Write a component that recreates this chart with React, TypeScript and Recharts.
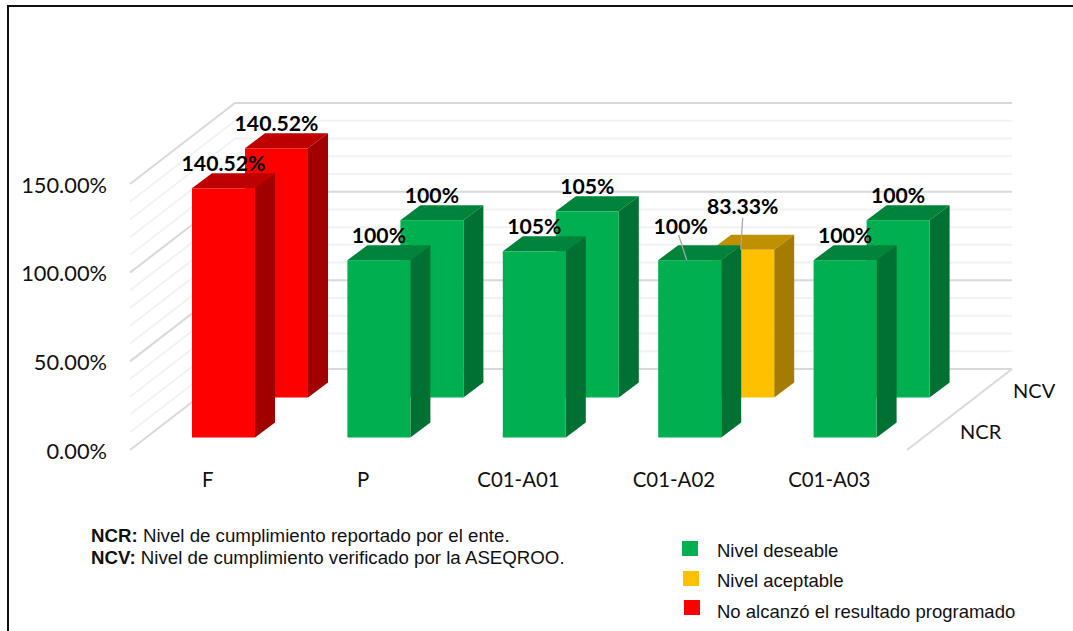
import { BarChart, Bar, XAxis, YAxis, ReferenceLine, LabelList } from 'recharts';

const categories = ['F', 'P', 'C01-A01', 'C01-A02', 'C01-A03'];
const ncrValues = [140.52, 100, 105, 100, 100];
const ncvValues = [140.52, 100, 105, 83.33, 100];
const ncrLevels = ['red', 'green', 'green', 'green', 'green'];
const ncvLevels = ['red', 'green', 'green', 'yellow', 'green'];
const gridValues = [10, 20, 30, 40, 60, 70, 80, 90, 110, 120, 130, 140, 0, 50, 100, 150];
const yTicks = [0, 50, 100, 150];

const legendItems = [
  { label: 'Nivel deseable', level: 'green' },
  { label: 'Nivel aceptable', level: 'yellow' },
  { label: 'No alcanzó el resultado programado', level: 'red' },
];

const palette: Record<string, { face: string; top: string; side: string }> = {
  red: { face: '#ff0000', top: '#bf0000', side: '#a20000' },
  green: { face: '#00b050', top: '#00843c', side: '#007033' },
  yellow: { face: '#ffc000', top: '#bf9000', side: '#a67c00' },
};

const data = categories.map((name, i) => ({
  name,
  ncr: ncrValues[i],
  ncv: ncvValues[i],
  ncrLevel: ncrLevels[i],
  ncvLevel: ncvLevels[i],
}));

// fake 3d: each plane is the axis plane pushed back by some px
const FRONT = { dx: 16, dy: -12.5 };
const BACK = { dx: 69, dy: -52.5 };
const WALL = { dx: 105, dy: -81 };
const DEPTH = { dx: 20, dy: -15 };

const axisFont = 'Lato, sans-serif';
const noteFont = '"Liberation Sans", Arial, sans-serif';

function Box3D({ x, y, width, height, level, plane }: any) {
  const c = palette[level];
  const l = x + plane.dx;
  const r = l + width;
  const t = y + plane.dy;
  const b = t + height;
  const { dx, dy } = DEPTH;
  return (
    <g>
      <polygon points={`${l},${t} ${r},${t} ${r + dx},${t + dy} ${l + dx},${t + dy}`} fill={c.top} />
      <polygon points={`${r},${t} ${r + dx},${t + dy} ${r + dx},${b + dy} ${r},${b}`} fill={c.side} />
      <rect x={l} y={t} width={width} height={height} fill={c.face} />
    </g>
  );
}

function WallLine({ x1, y1, x2, value }: any) {
  const stroke = value % 50 === 0 ? '#d9d9d9' : '#f2f2f2';
  const bx = x1 + WALL.dx;
  const by = y1 + WALL.dy;
  const rx = x2 + WALL.dx;
  return (
    <g>
      <polyline points={`${x1},${y1} ${bx},${by} ${rx},${by}`} fill="none" stroke={stroke} strokeWidth={2} />
      {value === 0 && <line x1={x2} y1={y1} x2={rx} y2={by} stroke={stroke} strokeWidth={2} />}
    </g>
  );
}

// per-bar tweaks of the labels, only the two on C01-A02 are moved and get a leader
const labelNudge: Record<string, { dx: number; dy: number; leader?: number[] }> = {
  'ncr-3': { dx: -9, dy: -9, leader: [-2, 9, 6, 34] },
  'ncv-3': { dx: 0, dy: -19, leader: [0, 12, -2, 44] },
};

function BarLabel({ x, y, width, value, index, series, plane }: any) {
  const nudge = labelNudge[`${series}-${index}`] || { dx: 0, dy: 0 };
  const cx = x + plane.dx + width / 2 + nudge.dx;
  const cy = y + plane.dy - 25 + nudge.dy;
  const lead = nudge.leader;
  return (
    <g>
      {lead && (
        <line x1={cx + lead[0]} y1={cy + lead[1]} x2={cx + lead[2]} y2={cy + lead[3]} stroke="#a6a6a6" strokeWidth={1.3} />
      )}
      <text x={cx} y={cy} textAnchor="middle" dominantBaseline="central" fontFamily={axisFont} fontWeight={700} fontSize={21.2} fill="#000">
        {value}%
      </text>
    </g>
  );
}

export default function App() {
  return (
    <div style={{ position: 'absolute', left: 0, top: 0, width: 1073, height: 631, background: '#fff', overflow: 'hidden' }}>
      <div style={{ position: 'absolute', left: 7, top: 5, width: 1066, height: 626, borderLeft: '2px solid #111', borderTop: '2px solid #111' }} />
      <BarChart
        width={1073}
        height={631}
        data={data}
        barSize={63}
        barGap={-63}
        margin={{ top: 184, right: 166, bottom: 141, left: 30 }}
        style={{ position: 'absolute', left: 0, top: 0 }}
      >
        <XAxis
          dataKey="name"
          height={40}
          axisLine={false}
          tickLine={false}
          tickSize={0}
          tickMargin={23}
          interval={0}
          tick={{ fill: '#111', fontSize: 20.4, fontFamily: axisFont }}
        />
        <YAxis
          width={100}
          domain={[0, 150]}
          ticks={yTicks}
          axisLine={false}
          tickLine={false}
          tickSize={0}
          tickMargin={23}
          tickFormatter={(v) => `${v.toFixed(2)}%`}
          tick={{ fill: '#111', fontSize: 21.8, fontFamily: axisFont, dy: 1 }}
        />
        {gridValues.map((v) => (
          <ReferenceLine key={v} y={v} zIndex={-100} shape={(p: any) => <WallLine {...p} value={v} />} />
        ))}
        <Bar dataKey="ncv" isAnimationActive={false} shape={(p: any) => <Box3D {...p} level={p.payload.ncvLevel} plane={BACK} />}>
          <LabelList dataKey="ncv" content={(p: any) => <BarLabel {...p} series="ncv" plane={BACK} />} />
        </Bar>
        <Bar dataKey="ncr" isAnimationActive={false} shape={(p: any) => <Box3D {...p} level={p.payload.ncrLevel} plane={FRONT} />}>
          <LabelList dataKey="ncr" content={(p: any) => <BarLabel {...p} series="ncr" plane={FRONT} />} />
        </Bar>
      </BarChart>

      <div style={{ position: 'absolute', left: 1013, top: 378, fontFamily: axisFont, fontSize: 20, color: '#111' }}>NCV</div>
      <div style={{ position: 'absolute', left: 960, top: 419, fontFamily: axisFont, fontSize: 20, color: '#111' }}>NCR</div>

      <div style={{ position: 'absolute', left: 91, top: 525, fontFamily: noteFont, fontSize: 18.7, lineHeight: '22px', color: '#111', whiteSpace: 'nowrap' }}>
        <div><b>NCR:</b> Nivel de cumplimiento reportado por el ente.</div>
        <div><b>NCV:</b> Nivel de cumplimiento verificado por la ASEQROO.</div>
      </div>

      {legendItems.map((item, i) => (
        <div key={item.label}>
          <div style={{ position: 'absolute', left: 682 + i, top: 541 + i * 29.5, width: 16, height: 15, background: palette[item.level].face }} />
          <div style={{ position: 'absolute', left: 717, top: 541 + i * 30.3, fontFamily: noteFont, fontSize: 18.5, lineHeight: '20px', color: '#111', whiteSpace: 'nowrap' }}>
            {item.label}
          </div>
        </div>
      ))}
    </div>
  );
}
